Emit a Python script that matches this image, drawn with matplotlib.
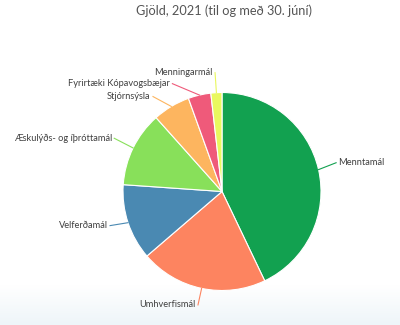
import numpy as np
import matplotlib
matplotlib.use("Agg")
import matplotlib.pyplot as plt
from matplotlib.colors import LinearSegmentedColormap

categories = ["Menntamál", "Umhverfismál", "Velferðamál", "Æskulýðs- og íþróttamál",
              "Stjórnsýsla", "Fyrirtæki Kópavogsbæjar", "Menningarmál"]
values = [42.9, 20.8, 12.4, 12.3, 6.1, 3.7, 1.8]
colors = ["#12a150", "#fd8460", "#4a89b2", "#88e05a", "#fdb55f", "#ef5a7a", "#e9f85e"]
title = "Gjöld, 2021 (til og með 30. júní)"

# label nudges (px) for the Highcharts-style label layout
nudges = [(-3, 2), (0, 5), (2, 4), (0, 0), (-8, -9), (-23, -10), (-1, -2)]

W, H = 400, 325
fig = plt.figure(figsize=(W / 100, H / 100), dpi=100)
ax = fig.add_axes([0, 0, 1, 1])

cx, cy, r = 222, 133.5, 99
wedges, _ = ax.pie(values, colors=colors, startangle=90, counterclock=False,
                   center=(cx, cy), radius=r, frame=True,
                   wedgeprops=dict(edgecolor="white", linewidth=0.8))
ax.set_xlim(0, W)
ax.set_ylim(0, H)
ax.set_aspect("equal")
ax.axis("off")

# faint bottom background gradient
grad = np.linspace(0, 1, 50).reshape(-1, 1)
cmap = LinearSegmentedColormap.from_list("bg", ["#eef5f9", "#ffffff"])
ax.imshow(grad, extent=[0, W, 0, 40], cmap=cmap, aspect="auto", zorder=0, origin="lower")
ax.set_xlim(0, W)
ax.set_ylim(0, H)

for w, lab, col, (dx, dy) in zip(wedges, categories, colors, nudges):
    mid = np.deg2rad((w.theta1 + w.theta2) / 2)
    ex, ey = cx + r * np.cos(mid), cy + r * np.sin(mid)
    lx, ly = cx + (r + 22) * np.cos(mid) + dx, cy + (r + 22) * np.sin(mid) + dy
    right = np.cos(mid) > 0
    gap = 3 if right else -3
    ax.plot([ex, lx - gap * 0.3], [ey, ly], color=col, lw=0.8, zorder=3)
    ax.text(lx + gap * 0.5, ly, lab, ha="left" if right else "right", va="center",
            fontsize=6.7, family="Lato", color="#3f3f3f", zorder=4)

fig.text(224 / W, 1 - 11 / H, title, ha="center", va="center", fontsize=9.2,
         family="Lato", color="#555555")

fig.savefig("out.png", dpi=100)
